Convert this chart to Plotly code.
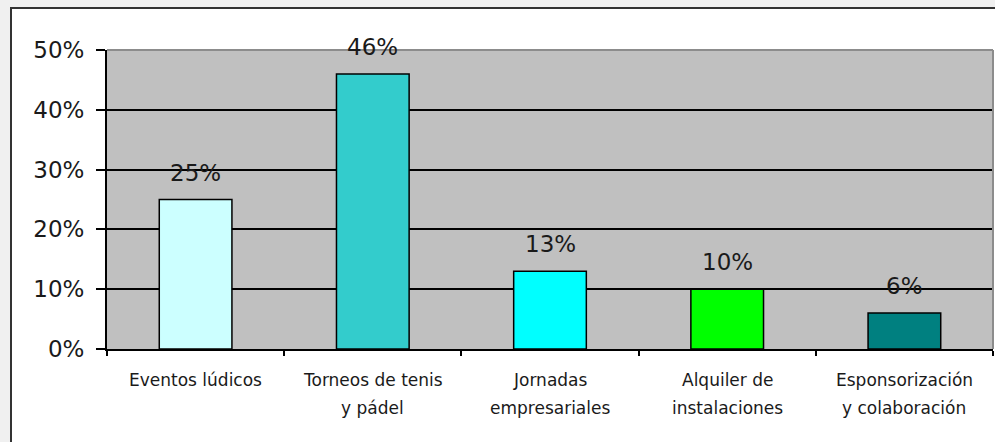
import plotly.graph_objects as go

# Share of activities (percent)
categories = [
    "Eventos lúdicos",
    "Torneos de tenis y pádel",
    "Jornadas empresariales",
    "Alquiler de instalaciones",
    "Esponsorización y colaboración",
]
label_lines = [
    ["Eventos lúdicos"],
    ["Torneos de tenis", "y pádel"],
    ["Jornadas", "empresariales"],
    ["Alquiler de", "instalaciones"],
    ["Esponsorización", "y colaboración"],
]
values = [25, 46, 13, 10, 6]
bar_colors = ["#CCFFFF", "#33CCCC", "#00FFFF", "#00FF00", "#008080"]
y_ticks = [0, 10, 20, 30, 40, 50]

W, H = 995, 442
M_L, M_R, M_T, M_B = 107, 2, 50, 93
PW, PH = W - M_L - M_R, H - M_T - M_B


def px_x(px):
    return (px - M_L) / PW


def px_y(py):
    return (H - M_B - py) / PH


FONT = "DejaVu Sans"

fig = go.Figure()
fig.add_trace(go.Bar(
    x=categories,
    y=values,
    width=0.41,
    marker=dict(color=bar_colors, line=dict(color="#000000", width=1.5)),
    hoverinfo="x+y",
    showlegend=False,
))

annotations = []
# value labels above each bar
for cat, v in zip(categories, values):
    annotations.append(dict(
        x=cat, y=v, xref="x", yref="y", text=f"{v}%", showarrow=False,
        yanchor="bottom", yshift=12,
        font=dict(family=FONT, size=23, color="#1a1a1a"),
    ))
# two-line category labels under the axis
for cat, lines in zip(categories, label_lines):
    for i, line in enumerate(lines):
        annotations.append(dict(
            x=cat, y=0, xref="x", yref="paper", text=line, showarrow=False,
            yanchor="middle", yshift=-31 - 28 * i,
            font=dict(family=FONT, size=17, color="#1a1a1a"),
        ))

shapes = [
    # light band outside the chart frame
    dict(type="rect", xref="paper", yref="paper",
         x0=px_x(-5), x1=px_x(10), y0=px_y(H + 5), y1=px_y(-5),
         fillcolor="#f0f0f0", line=dict(width=0), layer="below"),
    dict(type="rect", xref="paper", yref="paper",
         x0=px_x(-5), x1=px_x(W + 5), y0=px_y(7), y1=px_y(-5),
         fillcolor="#f0f0f0", line=dict(width=0), layer="below"),
    # chart frame (left and top edges)
    dict(type="line", xref="paper", yref="paper",
         x0=px_x(11), x1=px_x(11), y0=px_y(H + 5), y1=px_y(8),
         line=dict(color="#333333", width=2)),
    dict(type="line", xref="paper", yref="paper",
         x0=px_x(10), x1=px_x(W + 5), y0=px_y(8), y1=px_y(8),
         line=dict(color="#333333", width=2)),
    # plot-area border (top and right)
    dict(type="line", xref="paper", yref="paper", x0=0, x1=1, y0=1, y1=1,
         line=dict(color="#8c8c8c", width=2), layer="above"),
    dict(type="line", xref="paper", yref="paper", x0=1, x1=1, y0=0, y1=1,
         line=dict(color="#8c8c8c", width=2), layer="above"),
]

fig.update_layout(
    width=W, height=H,
    margin=dict(l=M_L, r=M_R, t=M_T, b=M_B, pad=0),
    paper_bgcolor="#ffffff",
    plot_bgcolor="#c0c0c0",
    font=dict(family=FONT, color="#1a1a1a"),
    bargap=0.59,
    annotations=annotations,
    shapes=shapes,
    xaxis=dict(
        type="category",
        range=[-0.5, 4.5],
        showticklabels=False,
        showgrid=False,
        showline=True, linecolor="#000000", linewidth=2,
        ticks="outside", tickson="boundaries", ticklen=5,
        tickwidth=2, tickcolor="#000000",
        fixedrange=True,
    ),
    yaxis=dict(
        range=[0, 50],
        tickvals=y_ticks,
        ticktext=[f"{t}%" for t in y_ticks],
        tickfont=dict(family=FONT, size=23, color="#1a1a1a"),
        ticks="outside", ticklen=9, tickwidth=2, tickcolor="#000000",
        ticklabelstandoff=7,
        showgrid=True, gridcolor="#000000", gridwidth=2,
        zeroline=False,
        showline=True, linecolor="#000000", linewidth=2,
        fixedrange=True,
    ),
)

fig.write_html("out.html", config={"displayModeBar": False})
